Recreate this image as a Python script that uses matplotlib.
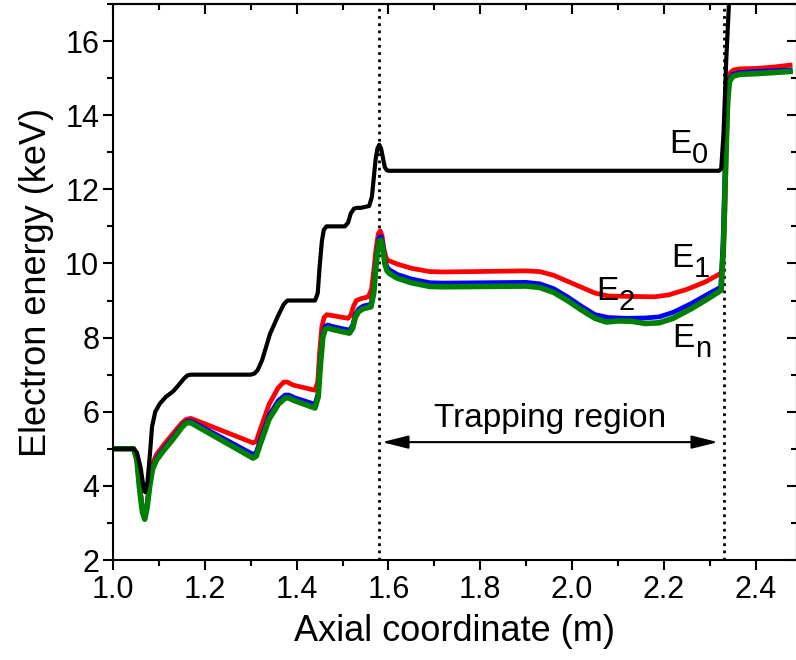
import matplotlib
matplotlib.use("Agg")
import matplotlib.pyplot as plt
from matplotlib.ticker import MultipleLocator, FormatStrFormatter

plt.rcParams['font.family'] = ['Liberation Sans', 'DejaVu Sans']

# ---- data ----
x_e0 = [1.00, 1.045, 1.052, 1.060, 1.066, 1.070, 1.075, 1.080, 1.085, 1.092,
        1.102, 1.115, 1.131, 1.145, 1.155, 1.162, 1.170, 1.300, 1.308, 1.315,
        1.325, 1.342, 1.360, 1.372, 1.380, 1.390, 1.440, 1.446, 1.450, 1.455,
        1.459, 1.465, 1.475, 1.505, 1.512, 1.518, 1.525, 1.532, 1.540, 1.558,
        1.564, 1.568, 1.572, 1.576, 1.580, 1.584, 1.588, 1.592, 1.596, 1.600,
        1.610, 2.320, 2.325, 2.330, 2.336, 2.343]
y_e0 = [5.0, 5.0, 4.9, 4.5, 4.0, 3.83, 4.1, 4.8, 5.6, 6.0,
        6.22, 6.4, 6.55, 6.75, 6.9, 6.98, 7.0, 7.0, 7.03, 7.12,
        7.4, 8.1, 8.6, 8.9, 9.0, 9.0, 9.0, 9.2, 9.9, 10.6,
        10.9, 11.0, 11.0, 11.0, 11.1, 11.35, 11.48, 11.5, 11.5, 11.55,
        11.8, 12.3, 12.8, 13.1, 13.2, 13.1, 12.85, 12.6, 12.52, 12.5,
        12.5, 12.5, 12.55, 13.5, 15.5, 17.3]

x_e1 = [1.00, 1.045, 1.052, 1.058, 1.064, 1.069, 1.074, 1.080, 1.086, 1.095,
        1.110, 1.130, 1.150, 1.160, 1.170, 1.305, 1.312, 1.320, 1.340, 1.360,
        1.372, 1.380, 1.392, 1.440, 1.446, 1.450, 1.455, 1.460, 1.466, 1.475,
        1.512, 1.518, 1.524, 1.530, 1.540, 1.556, 1.563, 1.568, 1.573, 1.578,
        1.582, 1.586, 1.590, 1.595, 1.600, 1.620, 1.650, 1.690, 1.720, 1.900,
        1.930, 1.960, 1.990, 2.020, 2.050, 2.080, 2.180, 2.210, 2.250, 2.290,
        2.322, 2.327, 2.332, 2.337, 2.341, 2.345, 2.352, 2.365, 2.400, 2.440,
        2.475]
y_e1 = [5.0, 5.0, 4.7, 4.0, 3.4, 3.2, 3.5, 4.2, 4.6, 4.85,
        5.1, 5.4, 5.7, 5.8, 5.82, 5.16, 5.2, 5.5, 6.2, 6.65,
        6.8, 6.8, 6.72, 6.58, 6.8, 7.6, 8.3, 8.55, 8.62, 8.6,
        8.52, 8.6, 8.85, 9.0, 9.05, 9.1, 9.3, 9.8, 10.4, 10.8,
        10.88, 10.75, 10.4, 10.15, 10.08, 9.98, 9.87, 9.78, 9.77, 9.80,
        9.78, 9.68, 9.52, 9.36, 9.2, 9.12, 9.1, 9.15, 9.3, 9.5,
        9.72, 9.8, 11.0, 13.5, 14.8, 15.15, 15.22, 15.25, 15.26, 15.3,
        15.35]

x_e2 = [1.00, 1.045, 1.052, 1.058, 1.064, 1.069, 1.074, 1.080, 1.086, 1.095,
        1.110, 1.130, 1.150, 1.160, 1.170, 1.305, 1.312, 1.320, 1.340, 1.360,
        1.375, 1.383, 1.395, 1.440, 1.447, 1.452, 1.457, 1.462, 1.468, 1.478,
        1.515, 1.522, 1.528, 1.535, 1.545, 1.562, 1.568, 1.572, 1.576, 1.580,
        1.584, 1.588, 1.592, 1.597, 1.603, 1.620, 1.650, 1.690, 1.720, 1.900,
        1.930, 1.960, 1.990, 2.020, 2.050, 2.080, 2.120, 2.160, 2.190, 2.220,
        2.260, 2.300, 2.324, 2.329, 2.334, 2.338, 2.342, 2.350, 2.365, 2.400,
        2.440, 2.475]
y_e2 = [5.0, 5.0, 4.7, 3.95, 3.35, 3.15, 3.45, 4.05, 4.5, 4.75,
        5.0, 5.3, 5.62, 5.74, 5.75, 4.85, 4.9, 5.2, 5.9, 6.3,
        6.45, 6.45, 6.38, 6.2, 6.5, 7.4, 8.1, 8.3, 8.34, 8.3,
        8.2, 8.33, 8.62, 8.77, 8.85, 8.9, 9.3, 9.9, 10.4, 10.7,
        10.72, 10.5, 10.1, 9.9, 9.82, 9.7, 9.58, 9.48, 9.47, 9.49,
        9.45, 9.32, 9.1, 8.85, 8.62, 8.54, 8.52, 8.53, 8.56, 8.68,
        8.92, 9.2, 9.36, 10.6, 12.9, 14.5, 14.95, 15.1, 15.15, 15.18,
        15.2, 15.22]

x_en = [1.00, 1.045, 1.052, 1.058, 1.064, 1.069, 1.074, 1.080, 1.086, 1.095,
        1.110, 1.130, 1.150, 1.160, 1.170, 1.305, 1.312, 1.320, 1.340, 1.360,
        1.375, 1.383, 1.395, 1.440, 1.447, 1.452, 1.457, 1.462, 1.468, 1.478,
        1.515, 1.522, 1.528, 1.535, 1.545, 1.562, 1.568, 1.572, 1.576, 1.580,
        1.584, 1.588, 1.592, 1.597, 1.603, 1.620, 1.650, 1.690, 1.720, 1.900,
        1.930, 1.960, 1.990, 2.020, 2.050, 2.075, 2.100, 2.130, 2.160, 2.190,
        2.220, 2.260, 2.300, 2.325, 2.330, 2.335, 2.339, 2.343, 2.350, 2.365,
        2.400, 2.440, 2.475]
y_en = [5.0, 5.0, 4.7, 3.9, 3.3, 3.1, 3.4, 4.0, 4.45, 4.7,
        4.95, 5.25, 5.58, 5.7, 5.7, 4.75, 4.8, 5.1, 5.8, 6.2,
        6.37, 6.37, 6.3, 6.1, 6.4, 7.3, 8.0, 8.22, 8.26, 8.22,
        8.12, 8.25, 8.55, 8.7, 8.78, 8.83, 9.2, 9.8, 10.3, 10.6,
        10.63, 10.4, 10.0, 9.8, 9.72, 9.6, 9.48, 9.38, 9.37, 9.39,
        9.35, 9.22, 9.0, 8.75, 8.52, 8.42, 8.45, 8.44, 8.38, 8.40,
        8.52, 8.78, 9.08, 9.28, 10.5, 12.8, 14.4, 14.9, 15.05, 15.1,
        15.12, 15.15, 15.18]

trap_bounds = [1.58, 2.33]
label_base = 'E'
label_subs = ['0', '1', '2', 'n']
label_pos = [(2.211, 12.98), (2.216, 9.90), (2.052, 9.01), (2.218, 7.75)]

# ---- figure ----
fig = plt.figure(figsize=(7.96, 6.60), dpi=100)
ax = fig.add_axes([0.1420, 0.1515, 0.8592, 0.8425])

ax.plot(x_e1, y_e1, color='#ff0000', lw=3.4, solid_joinstyle='round', zorder=3)
ax.plot(x_e2, y_e2, color='#0000ff', lw=3.4, solid_joinstyle='round', zorder=4)
ax.plot(x_en, y_en, color='#008000', lw=4.0, solid_joinstyle='round', zorder=5)
ax.plot(x_e0, y_e0, color='black', lw=3.0, solid_joinstyle='round', zorder=6)

for xb in trap_bounds:
    ax.axvline(xb, color='black', lw=2.0, ls=(0, (1, 1.6)), zorder=2)

ax.annotate('', xy=(1.586, 5.18), xytext=(2.318, 5.18),
            arrowprops=dict(arrowstyle='<|-|>,head_length=1.6,head_width=0.4',
                            color='black', lw=1.5, shrinkA=0, shrinkB=0))
ax.text(1.953, 5.59, 'Trapping region', fontsize=24, ha='center', va='baseline')

for sub, (lx, ly) in zip(label_subs, label_pos):
    ax.text(lx, ly, label_base, fontsize=24, ha='left', va='baseline')
    ax.annotate(sub, xy=(lx, ly), xytext=(16.5, -7), textcoords='offset points',
                fontsize=21, ha='left', va='baseline')

ax.set_xlim(1.0, 2.49)
ax.set_ylim(2, 17)
ax.xaxis.set_major_locator(MultipleLocator(0.2))
ax.xaxis.set_minor_locator(MultipleLocator(0.1))
ax.yaxis.set_major_locator(MultipleLocator(2))
ax.yaxis.set_minor_locator(MultipleLocator(1))
ax.xaxis.set_major_formatter(FormatStrFormatter('%.1f'))

for s in ax.spines.values():
    s.set_linewidth(1.5)

ax.tick_params(which='both', direction='out', width=1.5, labelsize=22,
               top=False, right=False)
ax.tick_params(which='major', length=7)
ax.tick_params(which='minor', length=4.5)
ax.tick_params(axis='x', pad=4)
ax.tick_params(axis='y', pad=3)

secx = ax.secondary_xaxis('top')
secx.xaxis.set_major_locator(MultipleLocator(0.2))
secx.xaxis.set_minor_locator(MultipleLocator(0.1))
secx.tick_params(which='both', direction='in', width=1.5, labeltop=False)
secx.tick_params(which='major', length=7)
secx.tick_params(which='minor', length=4.5)
secx.spines['top'].set_linewidth(1.5)

secy = ax.secondary_yaxis('right')
secy.yaxis.set_major_locator(MultipleLocator(2))
secy.yaxis.set_minor_locator(MultipleLocator(1))
secy.tick_params(which='both', direction='in', width=1.5, labelright=False)
secy.tick_params(which='major', length=7)
secy.tick_params(which='minor', length=4.5)
secy.spines['right'].set_linewidth(1.5)

ax.set_xlabel('Axial coordinate (m)', fontsize=26, labelpad=6)
ax.set_ylabel('Electron energy (keV)', fontsize=26, labelpad=8)

fig.savefig('out.png', dpi=100)
